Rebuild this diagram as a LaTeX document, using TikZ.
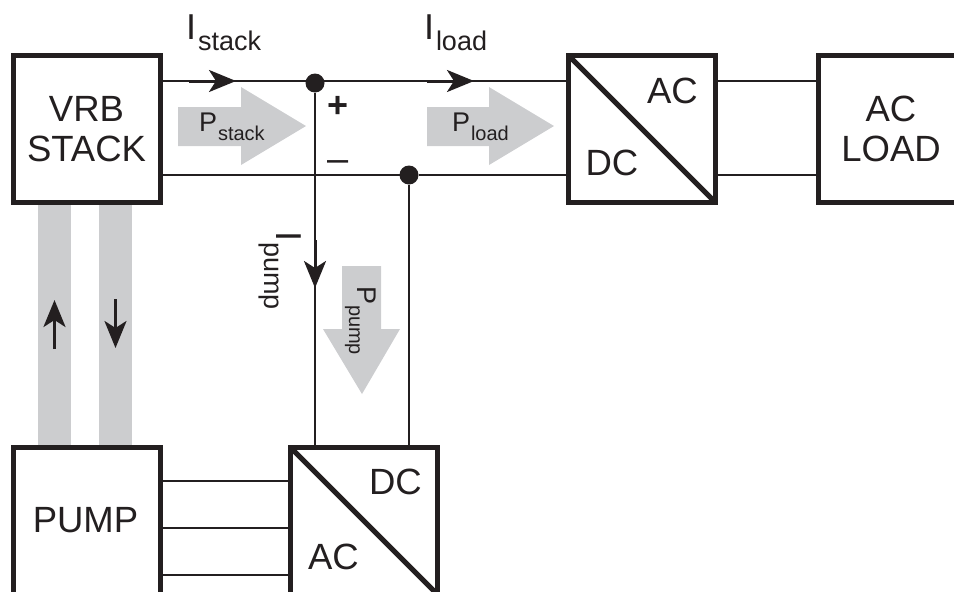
\documentclass[tikz,border=0pt]{standalone}
\usepackage{fontspec}
\setmainfont{Liberation Sans}
\usetikzlibrary{arrows.meta}
\definecolor{ink}{HTML}{231F20}
\definecolor{flow}{HTML}{CCCDCF}
\newcommand{\fsz}[1]{\fontsize{#1}{#1}\selectfont}
\tikzset{
  x=1pt,y=-1pt,
  block/.style={draw=ink,line width=5pt,fill=white,minimum width=147pt,minimum height=147pt,inner sep=0pt,outer sep=0pt,anchor=north west},
  wire/.style={draw=ink,line width=2pt},
  thickwire/.style={draw=ink,line width=3pt},
  junction/.style={circle,fill=ink,minimum size=19pt,inner sep=0pt,outer sep=0pt},
  label/.style={text=ink,inner sep=0pt,outer sep=0pt},
  big/.style={label,font=\fsz{36.5},align=center},
  current/.style={label,font=\fsz{36},anchor=base west},
  sub/.style={label,font=\fsz{27},anchor=base west},
  power/.style={label,font=\fsz{27},anchor=base west},
  psub/.style={label,font=\fsz{20},anchor=base west},
  flowfill/.style={fill=flow,draw=none},
  tip/.style={-{Stealth[length=27pt,width=22pt,inset=7pt]}},
}
\begin{document}
\begin{tikzpicture}
\useasboundingbox (0,0) rectangle (954,592);
% gray flows
\fill[flowfill] (38,199) rectangle (71,446);
\fill[flowfill] (99,199) rectangle (132,446);
\fill[flowfill] (178,107) -- (241,107) -- (241,87) -- (306,126) -- (241,165) -- (241,146) -- (178,146) -- cycle;
\fill[flowfill] (427,107) -- (489,107) -- (489,87) -- (554,126) -- (489,165) -- (489,146) -- (427,146) -- cycle;
\fill[flowfill] (342,266) -- (381,266) -- (381,329) -- (400,329) -- (362,394) -- (323,329) -- (342,329) -- cycle;
% blocks
\node[block] (vrb) at (13,55.5) {};
\node[block] (ldconv) at (568.5,55.5) {};
\node[block] (acload) at (818.5,55.5) {};
\node[block] (pump) at (13,447.5) {};
\node[block] (pconv) at (290.5,447.5) {};
\draw[draw=ink,line width=5pt] (ldconv.north west) -- (ldconv.south east);
\draw[draw=ink,line width=5pt] (pconv.north west) -- (pconv.south east);
% junctions
\node[junction] (ja) at (315,83) {};
\node[junction] (jb) at (409,175) {};
% wire endpoints
\coordinate (jat) at (315,81);
\coordinate (vt) at (vrb.east |- jat);
\coordinate (vb) at (vrb.east |- jb);
\coordinate (lt) at (ldconv.west |- jat);
\coordinate (lb) at (ldconv.west |- jb);
\coordinate (rt) at (ldconv.east |- jat);
\coordinate (rb) at (ldconv.east |- jb);
\coordinate (at) at (acload.west |- jat);
\coordinate (ab) at (acload.west |- jb);
\coordinate (pa) at (ja |- pconv.north);
\coordinate (pb) at (jb |- pconv.north);
\draw[wire] (vt) -- (jat);
\draw[wire] (jat) -- (lt);
\draw[wire] (vb) -- (jb);
\draw[wire] (jb) -- (lb);
\draw[wire] (rt) -- (at);
\draw[wire] (rb) -- (ab);
\draw[wire] (ja) -- (pa);
\draw[wire] (jb) -- (pb);
\foreach \yy/\nn in {481/a,528/b,575/c}{
  \coordinate (pl\nn) at (pump.east |- 0,\yy);
  \coordinate (pr\nn) at (pconv.west |- 0,\yy);
  \draw[wire] (pl\nn) -- (pr\nn);
}
% current arrows
\coordinate (sa) at (189,81); \coordinate (sb) at (236,81);
\coordinate (la) at (427,81); \coordinate (lb2) at (474,81);
\coordinate (pua) at (315,240); \coordinate (pub) at (315,288);
\coordinate (ua) at (54.5,349); \coordinate (ub) at (54.5,300);
\coordinate (da) at (115.5,299); \coordinate (db) at (115.5,348);
\draw[thickwire,tip] (sa) -- (sb);
\draw[thickwire,tip] (la) -- (lb2);
\draw[thickwire,tip] (pua) -- (pub);
\draw[thickwire,tip] (ua) -- (ub);
\draw[thickwire,tip] (da) -- (db);
% texts
\node[big] (t1) at (86.5,129) {VRB\\[3.5pt]STACK};
\node[big] (t2) at (891,129) {AC\\[3.5pt]LOAD};
\node[big] (t3) at (85.5,520.5) {PUMP};
\node[big] (t4) at (672.5,90.5) {AC};
\node[big] (t5) at (612,162.5) {DC};
\node[big] (t6) at (395.5,482) {DC};
\node[big] (t7) at (333.5,557) {AC};
\node[current] (i1) at (186,39) {I};
\node[sub] (i1s) at (198,50) {stack};
\node[current] (i2) at (424,39) {I};
\node[sub] (i2s) at (436,50) {load};
\node[power] (p1) at (199,131) {P};
\node[psub] (p1s) at (218,140) {stack};
\node[power] (p2) at (452,131) {P};
\node[psub] (p2s) at (471,140) {load};
\node[label,font=\fsz{36}\bfseries] (plus) at (338.5,107) {+};
\node[label,font=\fsz{38}] (minus) at (338.5,166) {–};
\node[current,rotate=-90] (i3) at (276,231) {I};
\node[sub,rotate=-90] (i3s) at (264,242) {pump};
\node[power,rotate=-90] (p3) at (357,286) {P};
\node[psub,rotate=-90] (p3s) at (349,305) {pump};
\end{tikzpicture}
\end{document}
